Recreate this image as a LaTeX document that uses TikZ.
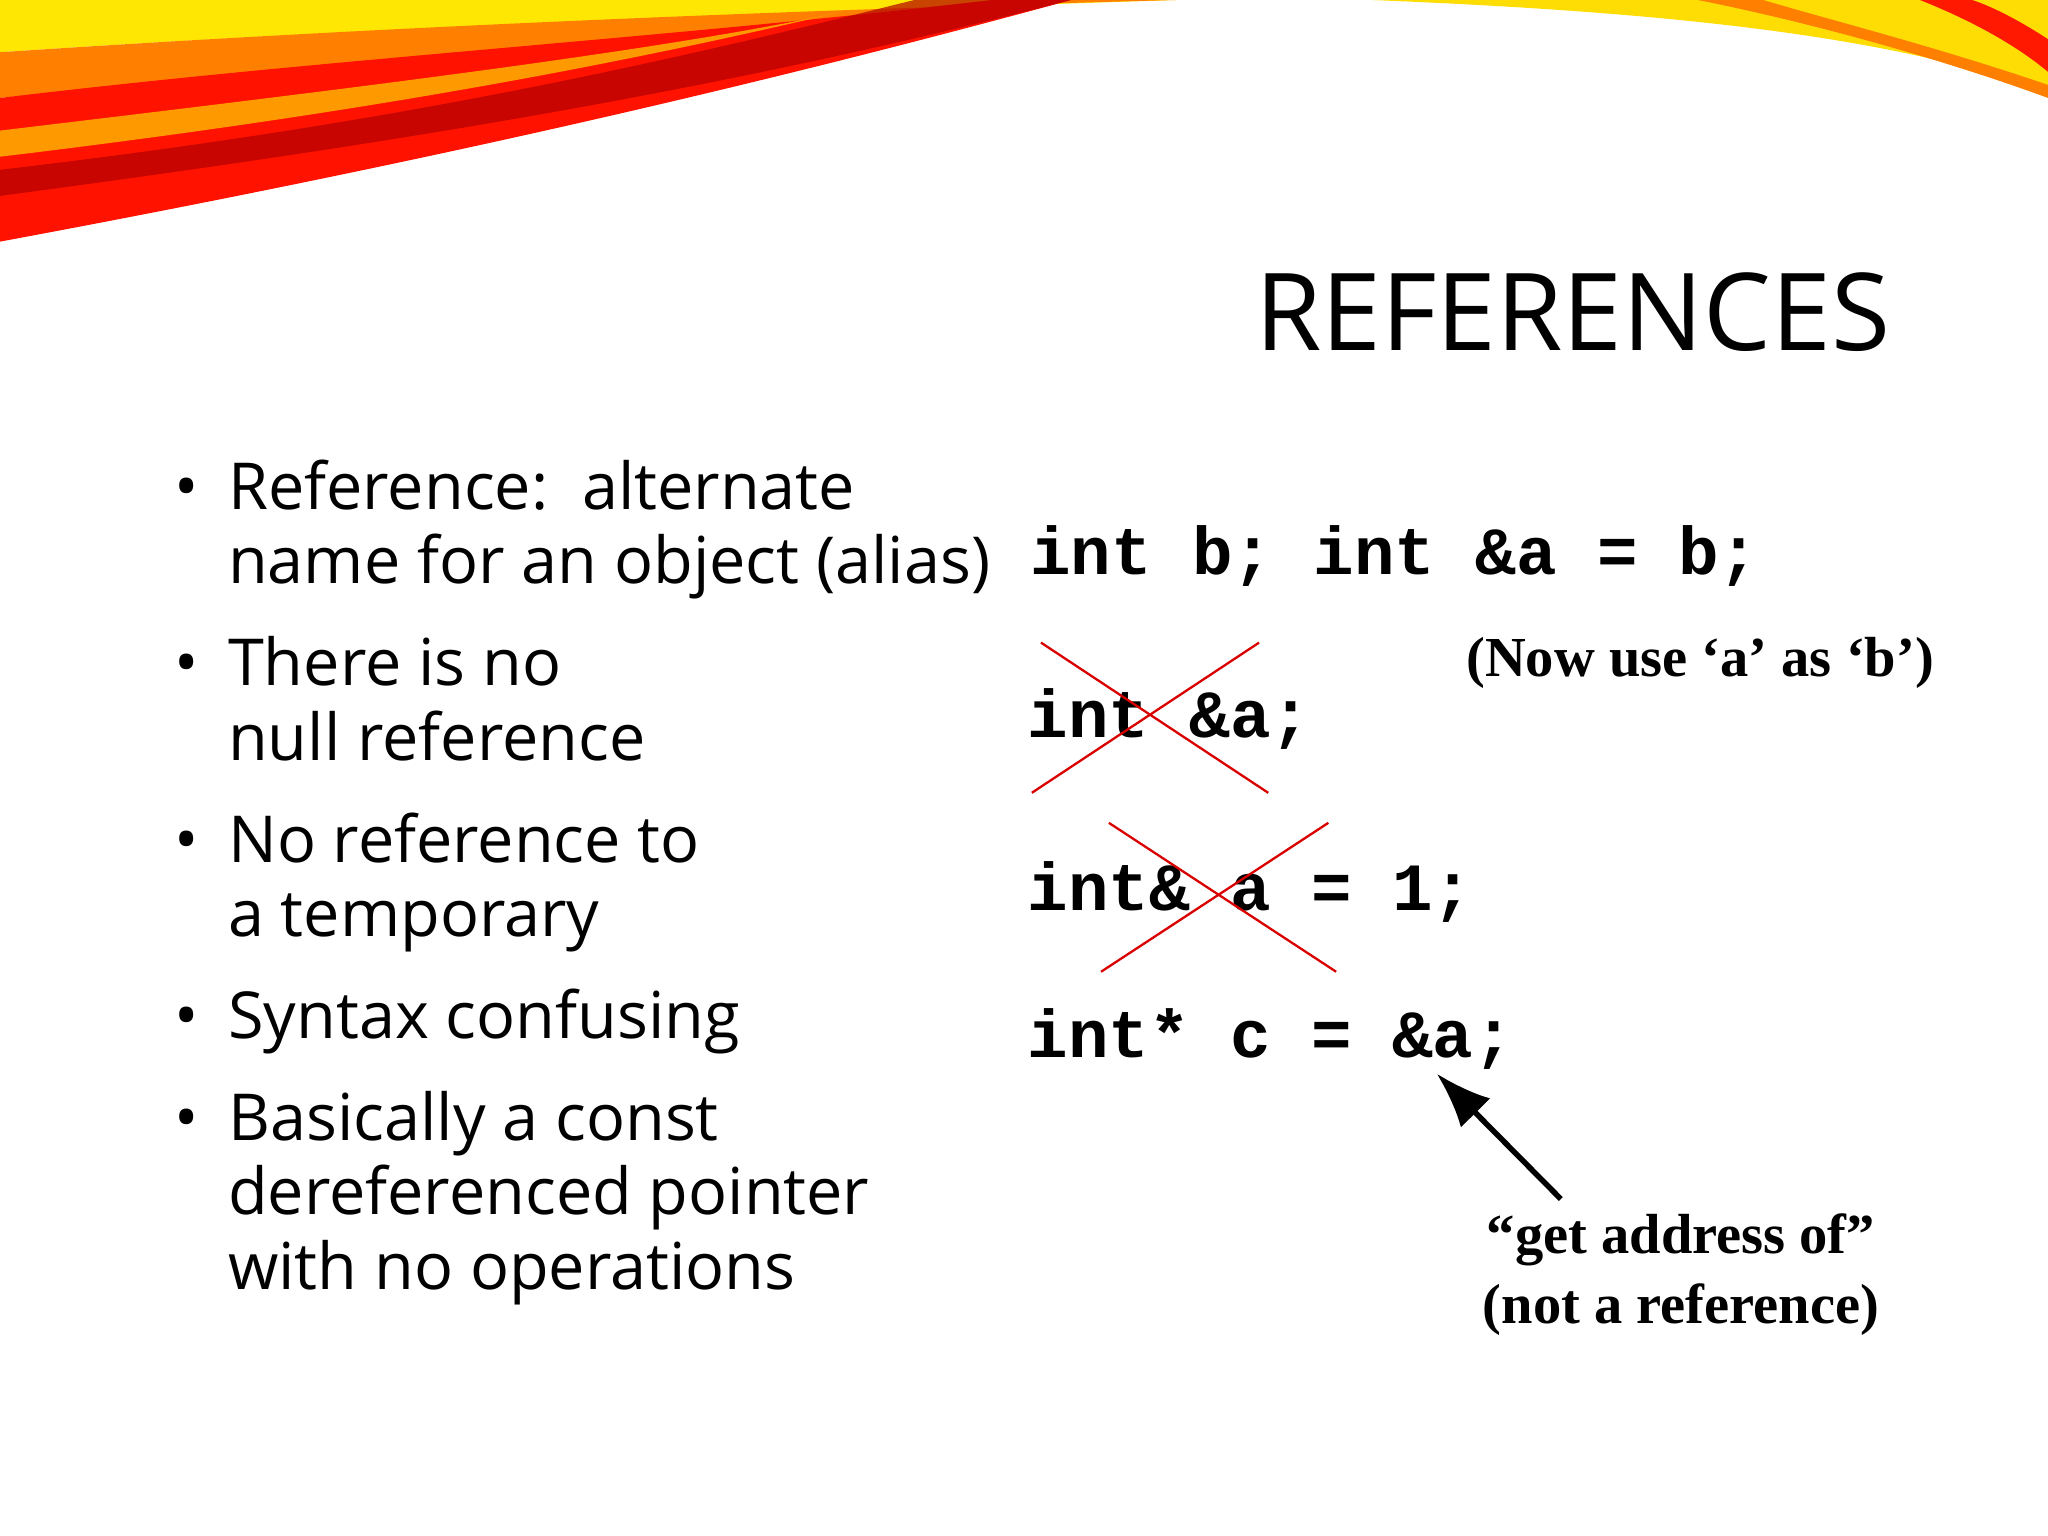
\documentclass[tikz,border=0pt]{standalone}
\usepackage{fontspec}
\setmainfont{Open Sans}
\newfontfamily\codef{Liberation Mono}
\newfontfamily\timesf{Liberation Serif}
\usetikzlibrary{arrows.meta}
\begin{document}
\begin{tikzpicture}[x=0.01cm,y=-0.01cm,
  bul/.style={anchor=base west,inner sep=0,font=\fontsize{14.1}{16}\selectfont},
  code/.style={anchor=base west,inner sep=0,font=\codef\bfseries\fontsize{14.7}{16}\selectfont},
  ann/.style={inner sep=0,font=\timesf\bfseries\fontsize{12.3}{15}\selectfont},
  xline/.style={red!85!black,line width=0.5pt}]
\useasboundingbox (0,0) rectangle (1568,1176);
\fill[white] (0,0) rectangle (1568,1176);
% swoosh
\fill[yellow!90!orange] (0,0) -- (0,40) .. controls (300,20) and (600,10) .. (900,0) -- cycle;
\fill[orange] (0,40) .. controls (300,20) and (600,8) .. (900,0) -- (760,0) .. controls (500,30) and (250,50) .. (0,75) -- cycle;
\fill[red!85!orange] (0,75) .. controls (250,45) and (500,30) .. (760,0) -- (820,0) .. controls (600,60) and (350,120) .. (0,185) -- cycle;
\fill[red!70!black,opacity=0.7] (0,150) .. controls (300,110) and (550,70) .. (820,0) -- (700,0) .. controls (500,50) and (300,95) .. (0,130) -- cycle;
\fill[orange!80!yellow] (0,100) .. controls (250,70) and (500,40) .. (640,10) .. controls (450,55) and (250,90) .. (0,120) -- cycle;
\fill[yellow!80!orange] (1050,0) .. controls (1300,10) and (1450,30) .. (1568,70) -- (1568,0) -- cycle;
\fill[red!80!orange] (1470,0) .. controls (1520,20) and (1550,40) .. (1568,55) -- (1568,30) .. controls (1545,15) and (1525,5) .. (1510,0) -- cycle;
\fill[orange] (1300,0) .. controls (1400,20) and (1500,50) .. (1568,75) -- (1568,65) .. controls (1480,35) and (1400,15) .. (1350,0) -- cycle;
% title
\node[anchor=base east,inner sep=0,font=\fontsize{23.4}{26}\selectfont] (title) at (1448,268) {REFERENCES};
% bullets
\foreach \y in {390,525,660,795,873}{\node[bul] at (133,\y) {•};}
\node[bul] (b1a) at (174,390) {Reference:\ \ alternate};
\node[bul] (b1b) at (174,447) {name for an object (alias)};
\node[bul] (b2a) at (174,525) {There is no};
\node[bul] (b2b) at (174,582) {null reference};
\node[bul] (b3a) at (174,660) {No reference to};
\node[bul] (b3b) at (174,717) {a temporary};
\node[bul] (b4) at (174,795) {Syntax confusing};
\node[bul] (b5a) at (174,873) {Basically a const};
\node[bul] (b5b) at (174,930) {dereferenced pointer};
\node[bul] (b5c) at (174,987) {with no operations};
% code
\node[code] (c1) at (788,440) {int b; int \&a = b;};
\node[code] (c2) at (786,565) {int \&a;};
\node[code] (c3) at (786,697) {int\& a = 1;};
\node[code] (c4) at (786,810) {int* c = \&a;};
\draw[xline] (797,492) -- (971,607);
\draw[xline] (964,492) -- (790,607);
\draw[xline] (849,630) -- (1023,744);
\draw[xline] (1017,630) -- (843,744);
\node[ann,anchor=base west] (n1) at (1122,518) {(Now use ‘a’ as ‘b’)};
\node[ann,anchor=base] (n2) at (1287,960) {“get address of”};
\node[ann,anchor=base] (n3) at (1287,1013) {(not a reference)};
\coordinate (tail) at (1195,918);
\coordinate (tip) at (1100,822);
\draw[line width=1.2pt,-{Latex[length=12pt,width=9pt]}] (tail) -- (tip);
\end{tikzpicture}
\end{document}
